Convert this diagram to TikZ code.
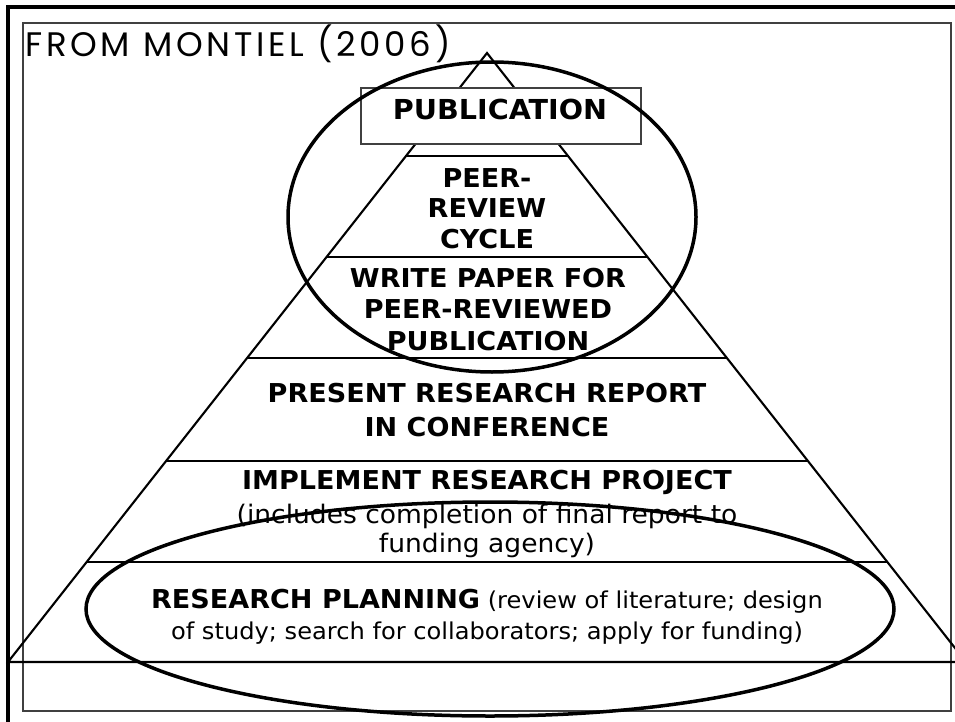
\documentclass[tikz,border=0pt]{standalone}
\usepackage{fontspec}
\setmainfont{DejaVu Sans}[FakeStretch=1.04]
\newfontfamily\titlefont{Poppins}[LetterSpace=11]
\usetikzlibrary{calc}

\begin{document}
\begin{tikzpicture}[x=1pt,y=-1pt,
  tier/.style={line width=2.1pt},
  ring/.style={line width=3.5pt},
  hair/.style={line width=1.1pt, draw=black!75},
  lbl/.style={inner sep=0pt, anchor=base, font=\fontsize{26}{31}\selectfont\bfseries},
  note/.style={inner sep=0pt, anchor=base, font=\fontsize{23.2}{28}\selectfont},
]
\useasboundingbox (0,0) rectangle (955,722);
\clip (0,0) rectangle (955,722);
\fill[white] (0,0) rectangle (955,722);

% page frames
\draw[line width=3.5pt] (8,7) rectangle (990,760);
\draw[hair] (23,23) rectangle (951,711);

% pyramid outline and tier boundaries
\coordinate (apex) at (487,53);
\coordinate (bl) at (8,662);
\coordinate (br) at (966,662);
\draw[tier, line join=miter] (bl) -- (apex) -- (br) -- cycle;
\foreach \t in {0.1691,0.3350,0.5008,0.6700,0.8358}
  \draw[tier] ($(apex)!\t!(bl)$) -- ($(apex)!\t!(br)$);

% top box
\draw[hair, fill=white] (361,88) rectangle (641,144);

% title
\node[inner sep=0pt, anchor=base west, font=\titlefont\fontsize{34}{40}\selectfont] (title) at (25,57) {FROM MONTIEL (2006)};

% tier labels
\node[lbl, font=\fontsize{27.5}{31}\selectfont\bfseries] (pub) at (500,120) {PUBLICATION};
\node[lbl] (peerA) at (487,187) {PEER-};
\node[lbl] (peerB) at (487,218) {REVIEW};
\node[lbl] (peerC) at (487,248.5) {CYCLE};
\node[lbl] (writeA) at (488,287) {WRITE PAPER FOR};
\node[lbl] (writeB) at (488,318.5) {PEER-REVIEWED};
\node[lbl] (writeC) at (488,350) {PUBLICATION};
\node[lbl] (presA) at (487,402) {PRESENT RESEARCH REPORT};
\node[lbl] (presB) at (487,436) {IN CONFERENCE};
\node[lbl] (implA) at (487,489) {IMPLEMENT RESEARCH PROJECT};
\node[note, font=\fontsize{25.5}{30}\selectfont] (implB) at (487,523) {(includes completion of final report to};
\node[note, font=\fontsize{25.5}{30}\selectfont] (implC) at (487,552) {funding agency)};
\node[note] (planA) at (487,608) {\fontsize{26}{30}\selectfont\bfseries RESEARCH PLANNING\fontsize{23.2}{28}\selectfont\mdseries{} (review of literature; design};
\node[note] (planB) at (487,639) {of study; search for collaborators; apply for funding)};

% highlight rings
\draw[ring] (492,217) ellipse [x radius=204, y radius=155];
\draw[ring] (490,609) ellipse [x radius=404, y radius=107];
\end{tikzpicture}
\end{document}
